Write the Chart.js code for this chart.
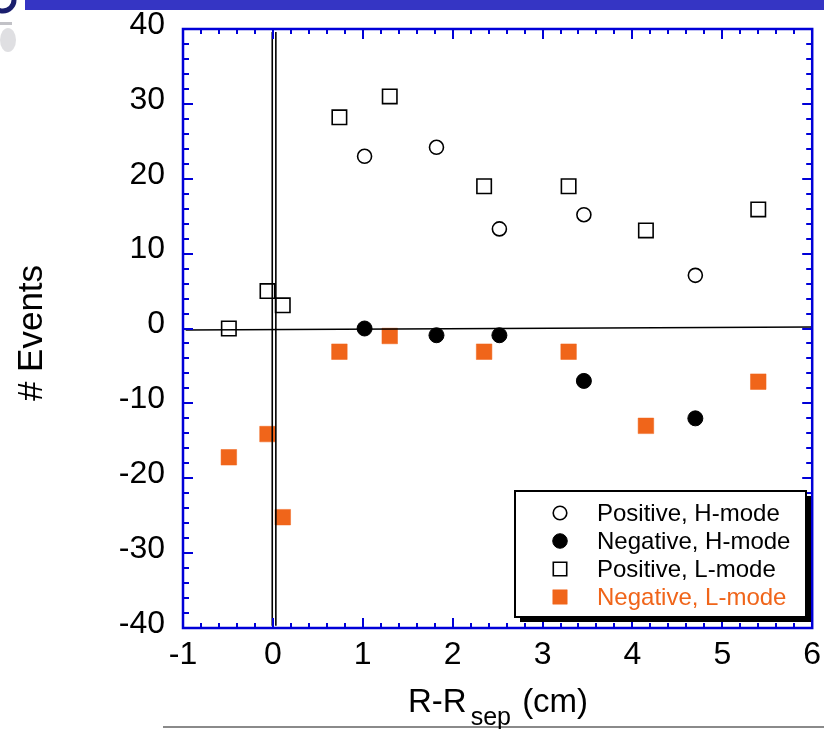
<!DOCTYPE html>
<html><head><meta charset="utf-8">
<script src="https://cdn.jsdelivr.net/npm/chart.js@4/dist/chart.umd.min.js"></script>
<style>html,body{margin:0;padding:0;background:#fff;overflow:hidden}#wrap{width:824px;height:729px;position:relative}</style>
</head><body><div id="wrap"><canvas id="c" width="824" height="729"></canvas></div>
<script>
// ---- data ----
const posHX = [1.02, 1.82, 2.52, 3.46, 4.70];
const posHY = [23.0, 24.2, 13.3, 15.2, 7.1];
const negHX = [1.02, 1.82, 2.52, 3.46, 4.70];
const negHY = [0.0, -0.9, -0.9, -7.0, -12.0];
const posLX = [-0.49, -0.06, 0.11, 0.74, 1.30, 2.35, 3.29, 4.15, 5.40];
const posLY = [0.0, 5.0, 3.1, 28.2, 31.0, 19.0, 19.0, 13.1, 15.9];
const negLX = [-0.49, -0.06, 0.11, 0.74, 1.30, 2.35, 3.29, 4.15, 5.40];
const negLY = [-17.2, -14.1, -25.2, -3.1, -1.0, -3.1, -3.1, -13.0, -7.1];
const seriesLabels = ['Positive, H-mode', 'Negative, H-mode', 'Positive, L-mode', 'Negative, L-mode'];
const xTicks = [-1, 0, 1, 2, 3, 4, 5, 6];
const yTicks = [-40, -30, -20, -10, 0, 10, 20, 30, 40];
const xMinorStep = 0.2;
const yMinorStep = 2;
const zeroLineX = [-0.97, 6];
const zeroLineY = [-0.2, 0.2];
const sepLineAX = [-0.007, -0.007];
const sepLineBX = [0.033, 0.033];
const sepLineY = [39.6, -39.7];
const xTitleMain = 'R-R', xTitleSub = 'sep', xTitleEnd = ' (cm)';
const yTitle = '# Events';

const pts = (xs, ys) => xs.map((x, i) => ({x: x, y: ys[i]}));
const ORANGE = '#f0651a';
const BLUE = '#0000d8';
const FONT = '"Liberation Sans", Arial, Helvetica, sans-serif';

const markerSets = [
  {label: seriesLabels[0], data: pts(posHX, posHY), pointStyle: 'circle', pointRadius: 7, pointBackgroundColor: '#fff', pointBorderColor: '#000', pointBorderWidth: 1.6, legendText: '#000'},
  {label: seriesLabels[1], data: pts(negHX, negHY), pointStyle: 'circle', pointRadius: 7.5, pointBackgroundColor: '#000', pointBorderColor: '#000', pointBorderWidth: 1, legendText: '#000'},
  {label: seriesLabels[2], data: pts(posLX, posLY), pointStyle: 'rect', pointRadius: 10.2, pointBackgroundColor: '#fff', pointBorderColor: '#000', pointBorderWidth: 1.6, legendText: '#000'},
  {label: seriesLabels[3], data: pts(negLX, negLY), pointStyle: 'rect', pointRadius: 11, pointBackgroundColor: ORANGE, pointBorderColor: ORANGE, pointBorderWidth: 0.5, legendText: ORANGE}
];
markerSets.forEach(d => { d.showLine = false; d.isMarker = true; d.pointHoverRadius = d.pointRadius; });

const lineSet = (xs, ys) => ({data: pts(xs, ys), showLine: true, borderColor: '#000', borderWidth: 1.6, pointRadius: 0, pointHoverRadius: 0, fill: false, isMarker: false});

const decor = {
  id: 'decor',
  beforeDraw(chart) {
    const ctx = chart.ctx;
    ctx.save();
    ctx.fillStyle = '#fff';
    ctx.fillRect(0, 0, chart.width, chart.height);
    // top banner
    ctx.fillStyle = '#3535c4';
    ctx.fillRect(25, 0, 799, 10);
    // logo fragment
    ctx.strokeStyle = '#1a1f6e';
    ctx.lineWidth = 5;
    ctx.beginPath(); ctx.arc(3, 0, 11, 0, Math.PI * 0.75); ctx.stroke();
    ctx.fillStyle = 'rgba(150,150,160,0.3)';
    ctx.beginPath(); ctx.ellipse(8, 40, 8, 12, 0, 0, Math.PI * 2); ctx.fill();
    ctx.fillStyle = 'rgba(120,120,130,0.45)';
    ctx.fillRect(0, 22, 12, 3);
    // bottom rule
    ctx.strokeStyle = '#8a8a8a';
    ctx.lineWidth = 2;
    ctx.beginPath(); ctx.moveTo(163, 727); ctx.lineTo(824, 727); ctx.stroke();
    ctx.restore();
  },
  afterDatasetsDraw(chart) {
    const ctx = chart.ctx;
    const xs = chart.scales.x, ys = chart.scales.y;
    const L = xs.left, R = xs.right, T = ys.top, B = ys.bottom;
    ctx.save();
    ctx.strokeStyle = BLUE;
    // ticks
    ctx.lineWidth = 2;
    ctx.beginPath();
    const nx = Math.round((xs.max - xs.min) / xMinorStep);
    for (let i = 0; i <= nx; i++) {
      const v = xs.min + i * xMinorStep;
      const major = Math.abs(v - Math.round(v)) < 1e-6;
      const len = major ? 10 : 5;
      const px = Math.round(xs.getPixelForValue(v));
      ctx.moveTo(px, B); ctx.lineTo(px, B - len);
      ctx.moveTo(px, T); ctx.lineTo(px, T + len);
    }
    const ny = Math.round((ys.max - ys.min) / yMinorStep);
    for (let i = 0; i <= ny; i++) {
      const v = ys.min + i * yMinorStep;
      const major = Math.abs(v / 10 - Math.round(v / 10)) < 1e-6;
      const len = major ? 10 : 6;
      const py = Math.round(ys.getPixelForValue(v));
      ctx.moveTo(L, py); ctx.lineTo(L + len, py);
      ctx.moveTo(R, py); ctx.lineTo(R - len, py);
    }
    ctx.stroke();
    // frame
    ctx.lineWidth = 2.5;
    ctx.strokeRect(L, T, R - L, B - T);
    ctx.restore();

    // legend
    const bx = 515, by = 491, bw = 291, bh = 126;
    ctx.save();
    ctx.fillStyle = '#000';
    ctx.fillRect(bx + 5, by + 5, bw, bh);
    ctx.fillStyle = '#fff';
    ctx.fillRect(bx, by, bw, bh);
    ctx.lineWidth = 2;
    ctx.strokeStyle = '#000';
    ctx.strokeRect(bx, by, bw, bh);
    ctx.font = '24px ' + FONT;
    ctx.textBaseline = 'middle';
    ctx.textAlign = 'left';
    let row = 0;
    chart.data.datasets.forEach(ds => {
      if (!ds.isMarker) return;
      const yy = by + 22 + row * 28;
      ctx.fillStyle = ds.pointBackgroundColor;
      ctx.strokeStyle = ds.pointBorderColor;
      ctx.lineWidth = ds.pointBorderWidth;
      ctx.beginPath();
      if (ds.pointStyle === 'rect') {
        const s = ds.pointRadius * Math.SQRT2 * 0.93;
        ctx.rect(560 - s / 2, yy - s / 2, s, s);
      } else {
        ctx.arc(560, yy, ds.pointRadius * 0.97, 0, Math.PI * 2);
      }
      ctx.fill(); ctx.stroke();
      ctx.fillStyle = ds.legendText;
      ctx.fillText(ds.label, 597, yy + 1);
      row++;
    });
    ctx.restore();

    // axis titles
    ctx.save();
    ctx.fillStyle = '#000';
    ctx.textBaseline = 'alphabetic';
    ctx.textAlign = 'left';
    ctx.font = '33px ' + FONT;
    let x0 = 408;
    ctx.fillText(xTitleMain, x0, 712);
    x0 += ctx.measureText(xTitleMain).width + 4;
    ctx.font = '25px ' + FONT;
    ctx.fillText(xTitleSub, x0, 725);
    x0 += ctx.measureText(xTitleSub).width + 2;
    ctx.font = '33px ' + FONT;
    ctx.fillText(xTitleEnd, x0, 712);
    ctx.translate(42, 333);
    ctx.rotate(-Math.PI / 2);
    ctx.textAlign = 'center';
    ctx.font = '35px ' + FONT;
    ctx.fillText(yTitle, 0, 0);
    ctx.restore();
  }
};

new Chart(document.getElementById('c'), {
  type: 'scatter',
  data: {
    datasets: [
      lineSet(zeroLineX, zeroLineY),
      lineSet(sepLineAX, sepLineY),
      lineSet(sepLineBX, sepLineY),
      ...markerSets
    ]
  },
  options: {
    responsive: false,
    animation: false,
    devicePixelRatio: 1,
    layout: {padding: {top: 29, right: 8, left: 0, bottom: 0}},
    plugins: {legend: {display: false}, tooltip: {enabled: false}},
    scales: {
      x: {
        type: 'linear', min: -1, max: 6,
        afterBuildTicks: s => { s.ticks = xTicks.map(v => ({value: v})); },
        afterFit: s => { s.height = 101; s.paddingLeft = 0; s.paddingRight = 0; },
        grid: {display: false, drawTicks: false},
        border: {display: false},
        ticks: {color: '#000', font: {family: FONT, size: 32}, padding: 8, maxRotation: 0, autoSkip: false}
      },
      y: {
        type: 'linear', min: -40, max: 40,
        afterBuildTicks: s => { s.ticks = yTicks.map(v => ({value: v})); },
        afterFit: s => { s.width = 183; s.paddingTop = 0; s.paddingBottom = 0; },
        grid: {display: false, drawTicks: false},
        border: {display: false},
        ticks: {color: '#000', font: {family: FONT, size: 32}, padding: 18, labelOffset: -4, autoSkip: false}
      }
    }
  },
  plugins: [decor]
});
</script></body></html>
